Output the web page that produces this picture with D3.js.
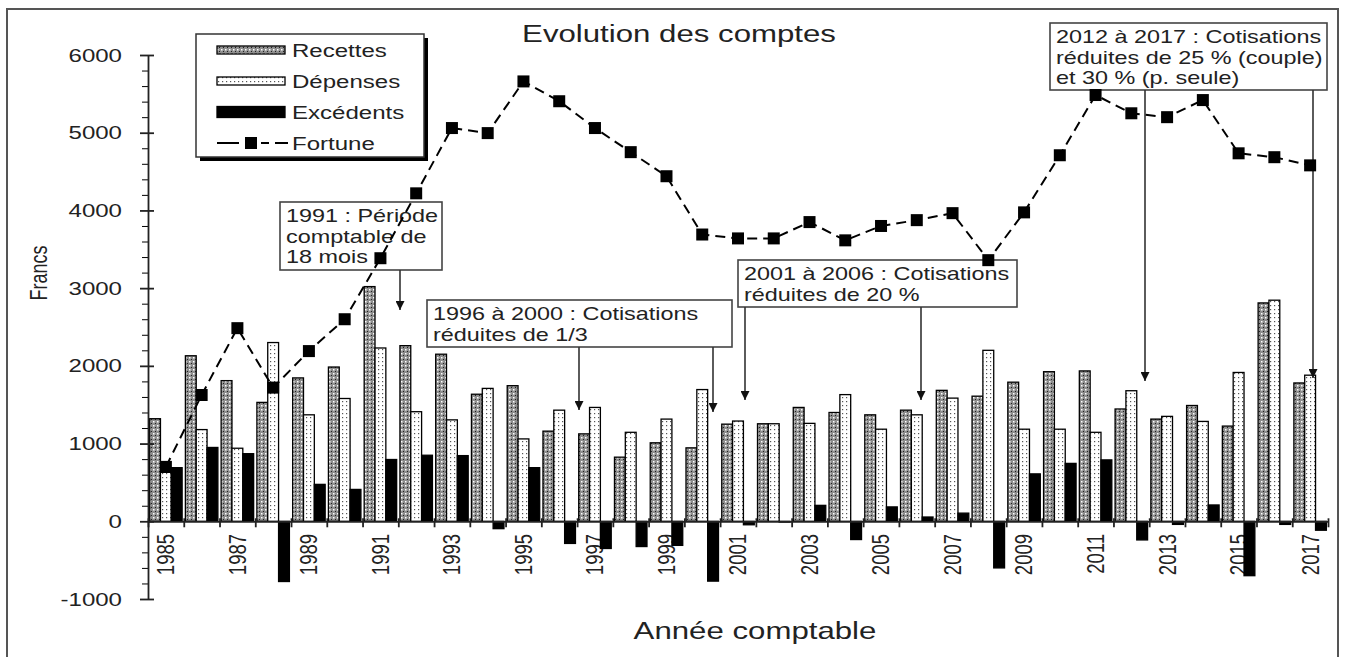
<!DOCTYPE html>
<html>
<head>
  <title>Evolution des comptes</title>
  <script src="https://d3js.org/d3.v7.min.js"></script>
  <style>
    body { margin: 0; background: #fff; }
    text { font-family: "Liberation Sans", Arial, sans-serif; fill: #222; }
  </style>
</head>
<body>
<svg id="chart"></svg>
<script>
  // values (francs)
  const years = [1985, 1986, 1987, 1988, 1989, 1990, 1991, 1992, 1993, 1994, 1995,
                 1996, 1997, 1998, 1999, 2000, 2001, 2002, 2003, 2004, 2005, 2006,
                 2007, 2008, 2009, 2010, 2011, 2012, 2013, 2014, 2015, 2016, 2017];
  const recettes = [1320, 2130, 1810, 1530, 1845, 1985, 3020, 2260, 2150, 1635, 1745,
                    1160, 1125, 825, 1010, 945, 1250, 1255, 1465, 1400, 1370, 1430,
                    1685, 1610, 1790, 1925, 1935, 1445, 1315, 1490, 1225, 2810, 1780];
  const depenses = [630, 1180, 940, 2300, 1370, 1580, 2230, 1410, 1305, 1710, 1060,
                    1430, 1465, 1145, 1315, 1695, 1290, 1255, 1260, 1630, 1185, 1370,
                    1585, 2200, 1185, 1185, 1145, 1680, 1350, 1285, 1915, 2845, 1880];
  const excedents = [690, 950, 870, -775, 475, 410, 795, 850, 845, -95, 690,
                     -285, -350, -325, -310, -770, -45, -10, 205, -235, 185, 55,
                     105, -600, 610, 745, 790, -240, -40, 210, -700, -40, -115];
  const fortune = [700, 1625, 2485, 1720, 2190, 2600, 3385, 4220, 5060, 4995, 5660,
                   5405, 5060, 4750, 4440, 3690, 3640, 3640, 3850, 3615, 3800, 3875,
                   3965, 3360, 3975, 4710, 5485, 5250, 5200, 5420, 4735, 4685, 4580];
  const majorTicks = [-1000, 0, 1000, 2000, 3000, 4000, 5000, 6000];
  const yearLabels = [1985, 1987, 1989, 1991, 1993, 1995, 1997, 1999, 2001, 2003,
                      2005, 2007, 2009, 2011, 2013, 2015, 2017];

  const W = 1345, H = 657;
  const SX = 1.3; // text in the original is stretched sideways

  const svg = d3.select("#chart").attr("width", W).attr("height", H);

  // patterns for the bars
  const defs = svg.append("defs");
  const patR = defs.append("pattern").attr("id", "patR")
      .attr("patternUnits", "userSpaceOnUse").attr("width", 4).attr("height", 4);
  patR.append("rect").attr("width", 4).attr("height", 4).attr("fill", "#8e8e8e");
  patR.append("rect").attr("x", 1).attr("y", 1).attr("width", 1.5).attr("height", 1.5).attr("fill", "#fff");
  patR.append("rect").attr("x", 3).attr("y", 3).attr("width", 1).attr("height", 1).attr("fill", "#222");
  const patD = defs.append("pattern").attr("id", "patD")
      .attr("patternUnits", "userSpaceOnUse").attr("width", 4).attr("height", 4);
  patD.append("rect").attr("width", 4).attr("height", 4).attr("fill", "#fff");
  patD.append("rect").attr("x", 2).attr("y", 1).attr("width", 1.2).attr("height", 1.2).attr("fill", "#555");
  defs.append("marker").attr("id", "arrow")
      .attr("viewBox", "0 0 10 10").attr("refX", 10).attr("refY", 5)
      .attr("markerWidth", 9).attr("markerHeight", 9)
      .attr("markerUnits", "userSpaceOnUse").attr("orient", "auto")
    .append("path").attr("d", "M0,0 L10,5 L0,10 z").attr("fill", "#111");

  function label(parent, x, y, str, size, anchor, rotate) {
    return parent.append("text")
      .attr("transform", `translate(${x},${y}) scale(${SX},1)` + (rotate ? ` rotate(${rotate})` : ""))
      .attr("text-anchor", anchor || "start")
      .style("font-size", size + "px")
      .text(str);
  }

  // outer frame
  svg.append("rect").attr("x", 7).attr("y", 9).attr("width", 1331).attr("height", 660)
     .attr("fill", "none").attr("stroke", "#555").attr("stroke-width", 2);

  // scales
  const x = d3.scaleBand().domain(years).range([148, 1328]).padding(0);
  const xEdge = d3.scaleLinear().domain([0, years.length]).range([148, 1328]);
  const y = d3.scaleLinear().domain([-1000, 6000]).range([599, 55]);
  const sub = d3.scaleBand().domain(["R", "D", "E"]).range([0, x.bandwidth()])
      .paddingOuter(0.15).paddingInner(0);

  // titles
  label(svg, 679, 42, "Evolution des comptes", 24, "middle");
  label(svg, 755, 639, "Année comptable", 24, "middle");
  label(svg, 47, 273, "Francs", 18, "middle", -90);

  // y tick labels
  majorTicks.forEach(v => {
    label(svg, 122, y(v) + 6.5, v, 18.5, "end");
  });

  // year labels (behind the bars like in the original)
  yearLabels.forEach(yr => {
    label(svg, x(yr) + x.bandwidth() / 2, 534, yr, 18.5, "end", -90).attr("dy", "0.35em");
  });

  // bars
  const barSeries = [
    { key: "R", values: recettes, fill: "url(#patR)" },
    { key: "D", values: depenses, fill: "url(#patD)" },
    { key: "E", values: excedents, fill: "#000" }
  ];
  barSeries.forEach(s => {
    svg.append("g").selectAll("rect")
      .data(s.values)
      .enter()
      .append("rect")
      .attr("x", (d, i) => x(years[i]) + sub(s.key))
      .attr("y", d => y(Math.max(0, d)))
      .attr("width", sub.bandwidth())
      .attr("height", d => Math.abs(y(d) - y(0)))
      .attr("fill", s.fill)
      .attr("stroke", "#000")
      .attr("stroke-width", 1.3);
  });

  // y axis: major ticks cross the line, minor ticks on the left
  const minorTicks = d3.range(-1000, 6001, 200).filter(v => v % 1000 !== 0);
  svg.append("g")
    .attr("transform", "translate(148,0)")
    .call(d3.axisLeft(y).tickValues(minorTicks).tickSize(6).tickFormat(""))
    .call(g => g.select(".domain").remove());
  const yAxis = svg.append("g")
    .attr("transform", "translate(148,0)")
    .call(d3.axisLeft(y).tickValues(majorTicks).tickSizeInner(8).tickSizeOuter(0).tickFormat(""));
  yAxis.selectAll(".tick line").attr("x2", -8).attr("x1", 6);
  yAxis.selectAll("line, path").attr("stroke", "#222").attr("stroke-width", 1.8);

  // x axis at zero, ticks between the years
  const xAxis = svg.append("g")
    .attr("transform", `translate(0,${y(0)})`)
    .call(d3.axisBottom(xEdge).tickValues(d3.range(0, years.length + 1)).tickSizeInner(6).tickSizeOuter(0).tickFormat(""));
  xAxis.selectAll(".tick line").attr("y1", -3);
  xAxis.selectAll("line, path").attr("stroke", "#222").attr("stroke-width", 1.8);

  // annotation boxes
  const notes = [
    { x: 280, y: 202, w: 162, h: 68, lines: ["1991 : Période", "comptable de", "18 mois"],
      arrows: [[400, 310]] },
    { x: 427, y: 300, w: 305, h: 47, lines: ["1996 à 2000 : Cotisations", "réduites de 1/3"],
      arrows: [[579, 410], [713, 412]] },
    { x: 738, y: 260, w: 279, h: 47, lines: ["2001 à 2006 : Cotisations", "réduites de 20 %"],
      arrows: [[745, 400], [921, 400]] },
    { x: 1050, y: 23, w: 277, h: 67, lines: ["2012 à 2017 : Cotisations", "réduites de 25 % (couple)", "et 30 % (p. seule)"],
      arrows: [[1145, 381], [1313, 378]] }
  ];
  notes.forEach(n => {
    const g = svg.append("g");
    g.append("rect").attr("x", n.x).attr("y", n.y).attr("width", n.w).attr("height", n.h)
      .attr("fill", "#fff").attr("stroke", "#444").attr("stroke-width", 1.6);
    n.lines.forEach((t, i) => label(g, n.x + 6, n.y + 20 + i * 20.5, t, 18));
    n.arrows.forEach(a => {
      g.append("line").attr("x1", a[0]).attr("x2", a[0])
        .attr("y1", n.y + n.h).attr("y2", a[1])
        .attr("stroke", "#333").attr("stroke-width", 1.6)
        .attr("marker-end", "url(#arrow)");
    });
  });

  // fortune line
  const line = d3.line()
    .x((d, i) => x(years[i]) + x.bandwidth() / 2)
    .y(d => y(d));
  svg.append("path")
    .datum(fortune)
    .attr("fill", "none")
    .attr("stroke", "#000")
    .attr("stroke-width", 2)
    .attr("stroke-dasharray", "10,6")
    .attr("d", line);
  svg.append("g").selectAll("rect")
    .data(fortune)
    .enter()
    .append("rect")
    .attr("x", (d, i) => x(years[i]) + x.bandwidth() / 2 - 6)
    .attr("y", d => y(d) - 6)
    .attr("width", 12)
    .attr("height", 12)
    .attr("fill", "#000");

  // legend
  const lg = svg.append("g");
  lg.append("rect").attr("x", 200).attr("y", 38).attr("width", 228).attr("height", 123).attr("fill", "#000");
  lg.append("rect").attr("x", 196).attr("y", 34).attr("width", 228).attr("height", 123)
    .attr("fill", "#fff").attr("stroke", "#333").attr("stroke-width", 1.5);
  const legendItems = [
    { name: "Recettes", fill: "url(#patR)", h: 8, cy: 50 },
    { name: "Dépenses", fill: "url(#patD)", h: 8, cy: 81 },
    { name: "Excédents", fill: "#000", h: 11, cy: 112 },
    { name: "Fortune", cy: 143 }
  ];
  legendItems.forEach(it => {
    if (it.fill) {
      lg.append("rect").attr("x", 217).attr("y", it.cy - it.h / 2).attr("width", 68).attr("height", it.h)
        .attr("fill", it.fill).attr("stroke", "#000").attr("stroke-width", 1.3);
    } else {
      lg.append("line").attr("x1", 217).attr("x2", 288).attr("y1", it.cy).attr("y2", it.cy)
        .attr("stroke", "#000").attr("stroke-width", 1.8).attr("stroke-dasharray", "22,8,8,6,8,6");
      lg.append("rect").attr("x", 245).attr("y", it.cy - 6).attr("width", 12).attr("height", 12).attr("fill", "#000");
    }
    label(lg, 292, it.cy + 7, it.name, 18.5);
  });
</script>
</body>
</html>
